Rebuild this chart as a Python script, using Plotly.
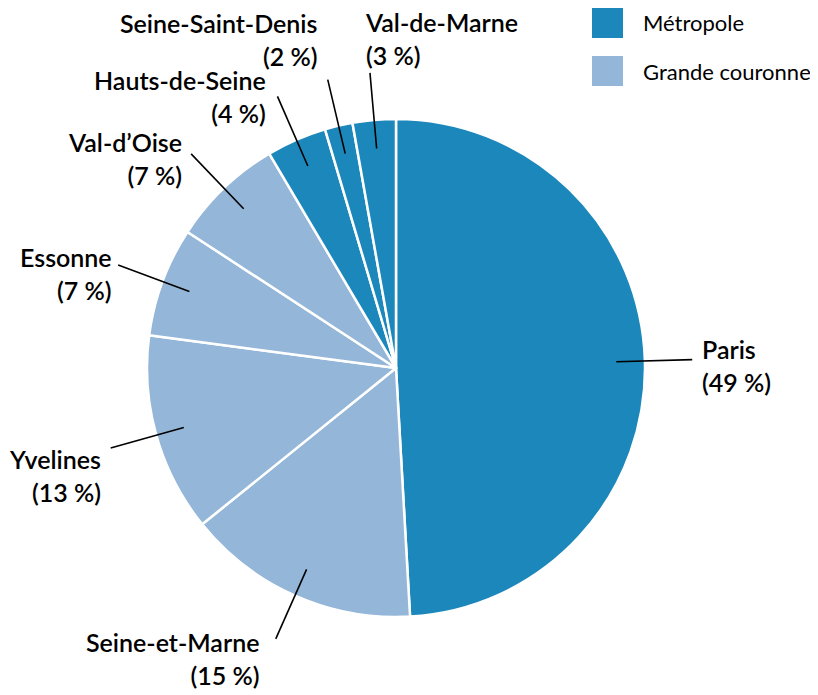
import math
import plotly.graph_objects as go

# ---------------- data ----------------
regions = ["Paris", "Seine-et-Marne", "Yvelines", "Essonne", "Val-d’Oise",
           "Hauts-de-Seine", "Seine-Saint-Denis", "Val-de-Marne"]
shares = [49.1, 15.1, 12.9, 7.1, 7.3, 3.9, 1.8, 2.8]
groups = ["Métropole", "Grande couronne", "Grande couronne", "Grande couronne",
          "Grande couronne", "Métropole", "Métropole", "Métropole"]
legend_groups = ["Métropole", "Grande couronne"]

# ---------------- style ----------------
W, H = 818, 695
OFF = 8  # page body margin
group_colors = {"Métropole": "#1c87bb", "Grande couronne": "#94b6d8"}
FONT = "Lato"

# pie box in screen pixels
px0, px1, py0, py1 = 147, 645, 119, 617
cx, cy = (px0 + px1) / 2, (py0 + py1) / 2
R = (px1 - px0) / 2

# label placement styles: (xanchor, xshift, yshift)
label_styles = {
    "Paris": ("left", 8, -6),
    "Seine-et-Marne": ("right", -15, -20),
    "Yvelines": ("right", -8, -28),
    "Essonne": ("right", -4, -8),
    "Val-d’Oise": ("right", -7, -5),
    "Hauts-de-Seine": ("right", -9, 0),
    "Seine-Saint-Denis": ("right", -8, 40),
    "Val-de-Marne": ("left", -7, 34),
}

def to_paper(x, y):
    return (x - OFF) / W, 1 - (y - OFF) / H

fig = go.Figure()
d0 = to_paper(px0, py1)
d1 = to_paper(px1, py0)
fig.add_trace(go.Pie(
    labels=regions,
    values=shares,
    sort=False,
    direction="clockwise",
    rotation=0,
    marker=dict(colors=[group_colors[g] for g in groups],
                line=dict(color="white", width=2.5)),
    textinfo="none",
    hoverinfo="label+percent",
    showlegend=False,
    domain=dict(x=[d0[0], d1[0]], y=[d0[1], d1[1]]),
))

shapes = []
annotations = []
total = sum(shares)
cum = 0.0
for name, v in zip(regions, shares):
    theta = (cum + v / 2) / total * 2 * math.pi
    cum += v
    s, c = math.sin(theta), math.cos(theta)
    r_in, r_out = 0.885 * R, 1.19 * R
    x_in, y_in = cx + r_in * s, cy - r_in * c
    x_out, y_out = cx + r_out * s, cy - r_out * c
    a0 = to_paper(x_in, y_in)
    a1 = to_paper(x_out, y_out)
    shapes.append(dict(type="line", xref="paper", yref="paper",
                       x0=a0[0], y0=a0[1], x1=a1[0], y1=a1[1],
                       line=dict(color="black", width=1.6)))
    xa, xs, ys = label_styles[name]
    annotations.append(dict(
        x=a1[0], y=a1[1], xref="paper", yref="paper",
        text=f"{name}<br>({round(v)} %)", showarrow=False,
        xanchor=xa, yanchor="middle", align=xa,
        xshift=xs, yshift=ys,
        font=dict(family=FONT, size=25, color="black", weight=600),
    ))

# manual legend
for i, g in enumerate(legend_groups):
    top = 8 + i * 48
    p0 = to_paper(592, top)
    p1 = to_paper(623, top + 30)
    shapes.append(dict(type="rect", xref="paper", yref="paper",
                       x0=p0[0], y0=p1[1], x1=p1[0], y1=p0[1],
                       fillcolor=group_colors[g], line=dict(width=0)))
    t = to_paper(641, top + 15)
    annotations.append(dict(x=t[0], y=t[1], xref="paper", yref="paper",
                            text=g, showarrow=False, xanchor="left",
                            yanchor="middle",
                            font=dict(family=FONT, size=22, color="black")))

fig.update_layout(
    width=W, height=H,
    margin=dict(l=0, r=0, t=0, b=0),
    paper_bgcolor="white",
    plot_bgcolor="white",
    shapes=shapes,
    annotations=annotations,
)

fig.write_html("out.html")
